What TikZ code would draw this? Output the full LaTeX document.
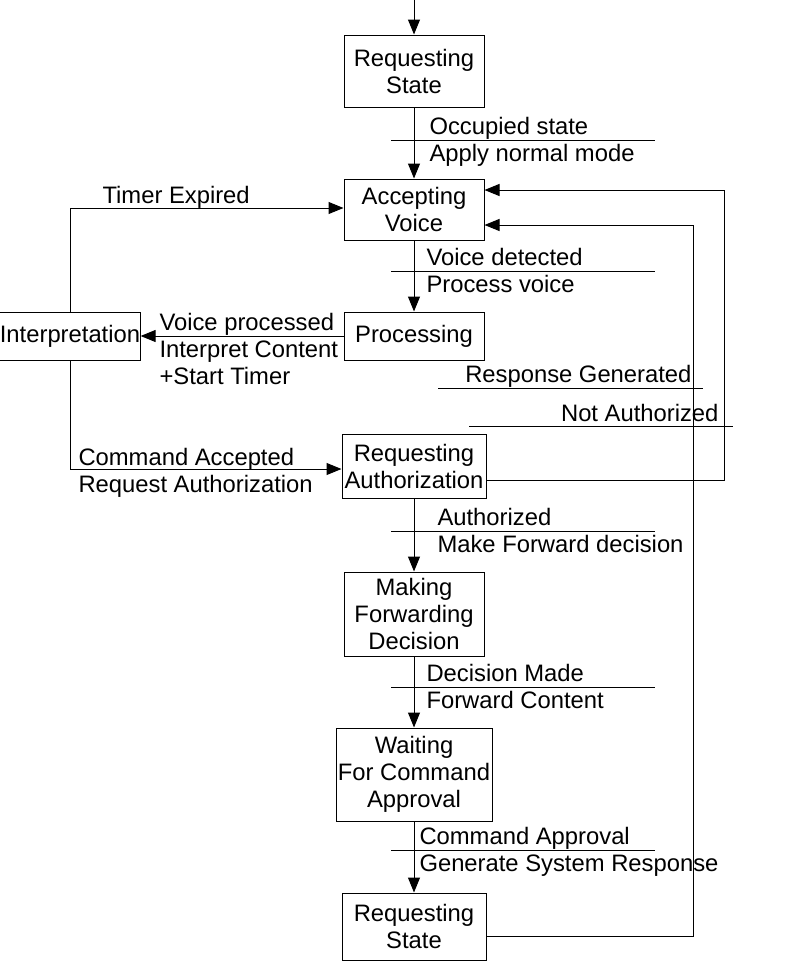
\documentclass[tikz,border=0pt]{standalone}
\usepackage{fontspec}
\setmainfont{Liberation Sans}
\usetikzlibrary{arrows.meta,calc}
\tikzstyle{fsm}=[
  >={Triangle[length=15pt,width=12pt]}, x=1pt, y=-1pt, line width=1pt,
  font=\fontsize{23.8}{27}\selectfont
]
\tikzstyle{state}=[
  draw, align=center, inner sep=0pt, minimum width=140pt
]
\tikzstyle{lbl}=[
  anchor=base west, inner sep=0pt
]
\tikzstyle{lblr}=[
  anchor=base east, inner sep=0pt
]

\begin{document}
\begin{tikzpicture}[fsm]
  \useasboundingbox (0,0) rectangle (790,961);
  % states
  \node (req1) at (414,71) [state, minimum height=72pt] {Requesting\\State};
  \node (acc) at (414,209.5) [state, minimum height=61pt] {Accepting\\Voice};
  \node (proc) at (414,336) [state, minimum height=48pt] {Processing};
  \node (interp) at (70,336) [state, minimum height=48pt] {Interpretation};
  \node (auth) at (414,466) [state, minimum width=144pt, minimum height=64pt] {Requesting\\Authorization};
  \node (fwd) at (414,614) [state, minimum height=84pt] {Making\\Forwarding\\Decision};
  \node (wait) at (414,774.5) [state, minimum width=156pt, minimum height=93pt] {Waiting\\For Command\\Approval};
  \node (req2) at (414,926.5) [state, minimum width=144pt, minimum height=67pt] {Requesting\\State};
  \coordinate (entry) at (414,0);
  \coordinate (naturn) at (724,190);
  \coordinate (rgturn) at (693,225);
  % transitions
  \draw [->] (entry) -- (req1);
  \draw [->] (req1) -- (acc);
  \draw [->] (acc) -- (proc);
  \draw [->] (proc) -- (interp);
  \draw [->] (interp.north) |- ([yshift=1.5pt]acc.west);
  \draw [->] (interp.south) |- ([yshift=-3pt]auth.west);
  \draw [->] ([yshift=-14pt]auth.east) -| (naturn) -- ([yshift=19.5pt]acc.east);
  \draw [->] ([yshift=-9.5pt]req2.east) -| (rgturn) -- ([yshift=-15.5pt]acc.east);
  \draw [->] (auth) -- (fwd);
  \draw [->] (fwd) -- (wait);
  \draw [->] (wait) -- (req2);
  % event / action labels
  \foreach \y/\x/\ev/\act in {140/429/Occupied state/Apply normal mode,
      271/426/Voice detected/Process voice,
      531/437/Authorized/Make Forward decision,
      687/426/Decision Made/Forward Content,
      850/419/Command Approval/Generate System Response} {
    \draw (391,\y) -- (655,\y);
    \node [lbl] at (\x,\y-6) {\ev};
    \node [lbl] at (\x,\y+21) {\act};
  }
  \node [lbl] at (159,330) {Voice processed};
  \node [lbl] at (159,357) {Interpret Content};
  \node [lbl] at (159,384) {+Start Timer};
  \node [lbl] at (102,203) {Timer Expired};
  \node [lbl] at (78,465.5) {Command Accepted};
  \node [lbl] at (78,492.5) {Request Authorization};
  \draw (438,388) -- (703,388);
  \node [lblr] at (692,382) {Response Generated};
  \draw (469,426) -- (733,426);
  \node [lblr] at (719,421) {Not Authorized};
\end{tikzpicture}
\end{document}
